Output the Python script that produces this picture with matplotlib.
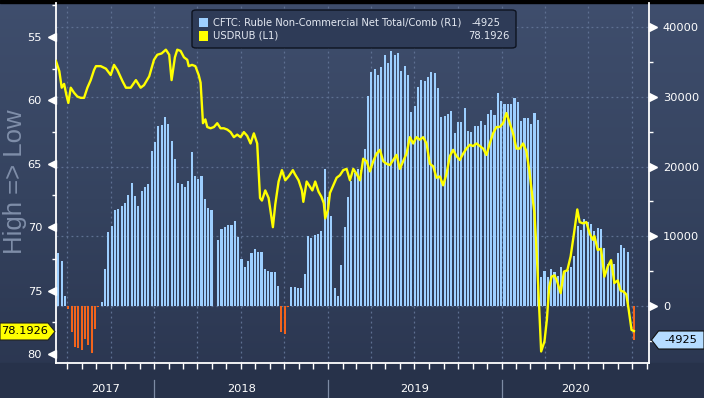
import numpy as np
import pandas as pd
import matplotlib
matplotlib.use('Agg')
import matplotlib.pyplot as plt
import matplotlib.dates as mdates
import matplotlib.transforms as mtransforms
from matplotlib.colors import LinearSegmentedColormap
from matplotlib.patches import Polygon, FancyBboxPatch, Rectangle

# ---------------- data ----------------
cftc_start = '2017-06-13'   # weekly CFTC report dates
cftc_net = [
    7560, 6460, 1435, -480, -3680, -5840, -6080, -6270, -4780, -5650,
    -6700, -3350, -100, 570, 5360, 10620, 11430, 13780, 13920, 14350,
    14830, 15930, 17600, 15790, 14350, 16460, 17080, 17420, 22200, 23540,
    25840, 25980, 27130, 26120, 23680, 21050, 17700, 17560, 17080, 17940,
    22100, 18660, 18280, 18660, 15360, 14070, 13730, np.nan, 9470, 11100,
    11390, 11630, 11580, 12200, 9900, 6700, 5650, 6460, 7610, 8180,
    7750, 7750, 5310, 5070, 4930, 4880, 2870, -3730, -4070, -200,
    2730, 2730, 2630, 2630, 4550, 10050, 9810, 10140, 10290, 10770,
    19620, 15650, 12920, 2630, 1435, 5840, 11340, 15650, 17940, 19140,
    19620, 19520, 22490, 30140, 33490, 33970, 33160, 34310, 36030, 34790,
    36600, 36030, 36220, 33640, 34450, 33160, 27750, 28710, 31440, 32390,
    32200, 32870, 33490, 33350, 31240, 27130, 27270, 27510, 27990, 24740,
    26320, 26380, 28450, 25020, 24930, 25800, 25750, 26520, 25890, 27490,
    28070, 27340, 30480, 29420, 29030, 28890, 28940, 29760, 29230, 26520,
    27000, 27000, 26040, 27730, 26620, 4160, 5020, 4160, 5260, 4930,
    4260, 5600, 4930, 5120, 5600, 7180, 11480, 10860, 12440, 12110,
    11720, 10770, 11150, 11000, 8280, 5980, 6460, 5980, 7660, 8760,
    8280, 7800, np.nan, -4925,
]

usdrub_dates = [
    '2017-06-08', '2017-06-15', '2017-06-20', '2017-06-25', '2017-06-30', '2017-07-04',
    '2017-07-09', '2017-07-16', '2017-07-23', '2017-07-30', '2017-08-06', '2017-08-13',
    '2017-08-20', '2017-08-27', '2017-08-31', '2017-09-10', '2017-09-21', '2017-10-01',
    '2017-10-08', '2017-10-15', '2017-10-26', '2017-11-02', '2017-11-12', '2017-11-23',
    '2017-12-03', '2017-12-10', '2017-12-21', '2017-12-31', '2018-01-07', '2018-01-16',
    '2018-01-25', '2018-02-01', '2018-02-06', '2018-02-13', '2018-02-18', '2018-02-25',
    '2018-03-04', '2018-03-11', '2018-03-14', '2018-03-21', '2018-03-28', '2018-04-04',
    '2018-04-08', '2018-04-13', '2018-04-18', '2018-04-22', '2018-04-29', '2018-05-06',
    '2018-05-13', '2018-05-20', '2018-05-27', '2018-06-03', '2018-06-10', '2018-06-17',
    '2018-06-24', '2018-07-01', '2018-07-08', '2018-07-15', '2018-07-22', '2018-07-29',
    '2018-08-05', '2018-08-11', '2018-08-15', '2018-08-22', '2018-08-29', '2018-09-07',
    '2018-09-12', '2018-09-19', '2018-09-26', '2018-10-03', '2018-10-10', '2018-10-19',
    '2018-10-23', '2018-10-31', '2018-11-07', '2018-11-10', '2018-11-17', '2018-11-24',
    '2018-11-29', '2018-12-05', '2018-12-12', '2018-12-18', '2018-12-23', '2018-12-26',
    '2019-01-01', '2019-01-05', '2019-01-12', '2019-01-19', '2019-01-26', '2019-02-02',
    '2019-02-09', '2019-02-16', '2019-02-23', '2019-03-02', '2019-03-09', '2019-03-16',
    '2019-03-23', '2019-03-30', '2019-04-06', '2019-04-13', '2019-04-20', '2019-04-27',
    '2019-05-04', '2019-05-11', '2019-05-18', '2019-05-25', '2019-06-01', '2019-06-09',
    '2019-06-15', '2019-06-22', '2019-06-29', '2019-07-06', '2019-07-13', '2019-07-20',
    '2019-07-27', '2019-08-03', '2019-08-10', '2019-08-17', '2019-08-24', '2019-08-31',
    '2019-09-07', '2019-09-14', '2019-09-21', '2019-09-28', '2019-10-05', '2019-10-12',
    '2019-10-19', '2019-10-26', '2019-11-02', '2019-11-09', '2019-11-16', '2019-11-23',
    '2019-11-30', '2019-12-07', '2019-12-14', '2019-12-21', '2019-12-28', '2020-01-04',
    '2020-01-11', '2020-01-18', '2020-01-25', '2020-02-01', '2020-02-08', '2020-02-15',
    '2020-02-22', '2020-02-28', '2020-03-04', '2020-03-10', '2020-03-15', '2020-03-20',
    '2020-03-24', '2020-03-31', '2020-04-05', '2020-04-10', '2020-04-15', '2020-04-21',
    '2020-04-26', '2020-05-04', '2020-05-11', '2020-05-18', '2020-05-25', '2020-06-01',
    '2020-06-08', '2020-06-13', '2020-06-20', '2020-06-27', '2020-07-04', '2020-07-11',
    '2020-07-14', '2020-07-21', '2020-07-28', '2020-08-04', '2020-08-11', '2020-08-18',
    '2020-08-25', '2020-09-01', '2020-09-07', '2020-09-14', '2020-09-19', '2020-09-24',
    '2020-09-30', '2020-10-05',
]
usdrub_vals = [
    56.9, 57.7, 59.0, 58.7, 59.6, 60.2,
    59.0, 59.4, 59.7, 59.8, 59.8, 59.0,
    58.4, 57.6, 57.3, 57.3, 57.5, 58.0,
    57.2, 57.6, 58.5, 59.0, 59.0, 58.4,
    59.0, 58.8, 58.1, 56.8, 56.4, 56.3,
    56.0, 56.4, 58.4, 56.6, 56.0, 56.1,
    56.6, 56.8, 57.3, 57.2, 57.3, 58.0,
    58.6, 61.8, 61.5, 62.1, 62.2, 62.1,
    61.8, 62.2, 62.2, 62.3, 62.5, 62.9,
    62.7, 62.9, 62.5, 62.8, 63.4, 62.6,
    63.4, 67.7, 67.9, 67.1, 67.7, 70.0,
    68.2, 66.4, 65.5, 66.3, 66.0, 65.5,
    65.8, 66.3, 67.1, 68.0, 66.4, 66.8,
    67.1, 66.4, 67.2, 67.6, 68.1, 69.3,
    68.6, 67.3, 66.7, 66.1, 65.9, 65.5,
    65.4, 66.3, 65.4, 65.8, 66.3, 64.6,
    64.8, 65.6, 64.8, 64.2, 63.9, 64.8,
    65.0, 65.1, 64.7, 64.3, 65.4, 64.7,
    64.2, 62.9, 63.4, 62.9, 63.1, 62.9,
    63.4, 65.0, 65.2, 66.1, 66.0, 66.7,
    65.8, 64.4, 63.9, 64.4, 64.7, 64.2,
    63.8, 63.5, 63.6, 63.4, 63.6, 63.8,
    64.3, 63.4, 62.6, 62.1, 62.1, 61.8,
    61.0, 61.8, 62.6, 63.8, 63.8, 63.4,
    64.0, 65.5, 67.1, 68.9, 72.3, 76.5,
    79.8, 79.0, 77.3, 74.7, 73.9, 73.8,
    74.2, 75.2, 73.5, 73.4, 72.3, 70.5,
    68.6, 69.6, 69.7, 69.6, 70.5, 71.0,
    70.7, 71.8, 71.7, 73.9, 73.1, 72.6,
    74.4, 74.2, 75.0, 75.1, 75.3, 76.5,
    78.1, 78.1926,
]

legend_labels = ['CFTC: Ruble Non-Commercial Net Total/Comb (R1)', 'USDRUB (L1)']
last_values = ['-4925', '78.1926']
left_ticks = [55, 60, 65, 70, 75, 80]
right_ticks = [0, 10000, 20000, 30000, 40000]
years = [2017, 2018, 2019, 2020]
ylabel = 'High => Low'

# ---------------- style ----------------
W, H = 704, 398
BLUE = '#9dcfff'
ORANGE = '#f2641c'
YELLOW = '#ffff00'
GRID = '#5e7092'
TXT = '#ffffff'

fig = plt.figure(figsize=(W / 100, H / 100), dpi=100)

# background gradient over whole figure
bg = fig.add_axes([0, 0, 1, 1], zorder=-10)
grad = np.linspace(0, 1, 256).reshape(-1, 1)
cmap = LinearSegmentedColormap.from_list('bg', ['#3f4e6d', '#35435f', '#2a354f'])
bg.imshow(grad, aspect='auto', cmap=cmap, extent=[0, 1, 0, 1], origin='upper')
bg.set_xlim(0, 1); bg.set_ylim(0, 1)
bg.axis('off')
bg.add_patch(Rectangle((0, 1 - 3 / H), 1, 3 / H, color='black', transform=bg.transAxes))
bg.add_patch(Rectangle((0, 0), 1, 35 / H, color='#27324a', transform=bg.transAxes))


def px(x, y):
    return (x / W, 1 - y / H)


ax = fig.add_axes([56 / W, 35 / H, 593 / W, 360 / H])
ax.set_facecolor('none')
ax2 = ax.twinx()
ax2.set_facecolor('none')

# bars (right axis)
bar_dates = pd.date_range(cftc_start, periods=len(cftc_net), freq='7D')
vals = np.array(cftc_net, dtype=float)
ok = ~np.isnan(vals)
cols = np.where(vals[ok] >= 0, BLUE, ORANGE)
ax.bar(bar_dates[ok], vals[ok], width=4.4, color=cols, zorder=2, linewidth=0)

ax.set_ylim(-8170, 43440)
ax.yaxis.tick_right()
ax.set_yticks(right_ticks)
ax.set_yticks(np.arange(-5000, 43000, 5000), minor=True)
ax.set_yticklabels([str(v) for v in right_ticks])
ax.tick_params(axis='y', which='major', length=0, pad=10, labelsize=8.2, labelcolor=TXT,
               labelright=True, labelleft=False, right=True, left=False)
ax.tick_params(axis='y', which='minor', length=3, width=1, color='white', direction='out',
               right=True, left=False, labelright=False, labelleft=False)

x0 = pd.Timestamp('2017-06-08')
x1 = pd.Timestamp('2020-11-05 18:00')
ax.set_xlim(x0, x1)
ax.xaxis.set_major_locator(mdates.MonthLocator(bymonth=[1, 4, 7, 10]))
ax.xaxis.set_minor_locator(mdates.MonthLocator())
ax.tick_params(axis='x', which='both', length=4, width=1, color='white',
               labelbottom=False, direction='out')

ax.set_axisbelow(True)
ax.grid(True, axis='y', which='major', color=GRID, linestyle=(0, (1.5, 2.5)), linewidth=0.9)
ax.grid(True, axis='x', which='major', color=GRID, linestyle=(0, (1.5, 2.5)), linewidth=0.9)

for s in ['left', 'right', 'bottom']:
    ax.spines[s].set_color('white')
    ax.spines[s].set_linewidth(1.3)
ax.spines['top'].set_visible(False)

# right triangles
trR = mtransforms.blended_transform_factory(ax.transAxes, ax.transData)
ax.plot([1.0075] * len(right_ticks), right_ticks, ls='none', marker='>', ms=5.5,
        color='white', transform=trR, clip_on=False, zorder=5)

# line (left axis)
ax2.plot(pd.to_datetime(usdrub_dates), usdrub_vals, color=YELLOW, lw=1.7, zorder=3,
         solid_joinstyle='round')
ax2.set_ylim(80.71, 52.32)
ax2.yaxis.tick_left()
ax2.set_yticks(left_ticks)
ax2.set_yticks(np.arange(52.5, 81, 2.5), minor=True)
ax2.set_yticklabels([str(v) for v in left_ticks])
ax2.tick_params(axis='y', which='major', length=0, pad=10, labelsize=8.2, labelcolor=TXT,
                labelleft=True, labelright=False, left=True, right=False)
ax2.tick_params(axis='y', which='minor', length=3, width=1, color='white', direction='out',
                labelleft=False, labelright=False, left=True, right=False)
for s in ax2.spines.values():
    s.set_visible(False)
ax2.set_xlim(x0, x1)

trL = mtransforms.blended_transform_factory(ax2.transAxes, ax2.transData)
ax2.plot([-0.0075] * len(left_ticks), left_ticks, ls='none', marker='<', ms=5.5,
         color='white', transform=trL, clip_on=False, zorder=5)

# year labels and separators
trX = mtransforms.blended_transform_factory(ax.transData, ax.transAxes)
for y in years:
    a = max(pd.Timestamp(f'{y}-01-01'), x0)
    b = min(pd.Timestamp(f'{y + 1}-01-01'), x1)
    mid = a + (b - a) / 2
    ax.text(mdates.date2num(mid), -0.072, str(y), transform=trX, ha='center', va='center',
            color=TXT, fontsize=8.2)
    if y > years[0]:
        ax.plot([mdates.date2num(pd.Timestamp(f'{y}-01-01'))] * 2, [-0.047, -0.095],
                color='#7d8ba4', lw=0.9, transform=trX, clip_on=False)

# y label
fig.text(15 / W, 1 - 182 / H, ylabel, rotation=90, ha='center', va='center',
         color='#7f8ea9', fontsize=18.5, family='Liberation Sans')

# legend box
lg = FancyBboxPatch(px(192, 48), 324 / W, 38 / H, boxstyle='round,pad=0,rounding_size=0.006',
                    transform=fig.transFigure, facecolor='#2e3b57', edgecolor='#0d1320',
                    linewidth=1.0, zorder=20)
fig.patches.append(lg)
for i, (lab, col) in enumerate(zip(legend_labels, [BLUE, YELLOW])):
    yc = 22.5 + i * 13.5
    fig.patches.append(Rectangle(px(199, yc + 4.5), 9 / W, 9 / H, transform=fig.transFigure,
                                 facecolor=col, edgecolor='none', zorder=21))
    fig.text(*px(213, yc), lab, ha='left', va='center', color='#e4e9f2', fontsize=7.2,
             zorder=22)
fig.text(*px(472, 22.5), last_values[0], ha='left', va='center', color='#e4e9f2',
         fontsize=7.2, zorder=22)
fig.text(*px(510, 36), last_values[1], ha='right', va='center', color='#e4e9f2',
         fontsize=7.2, zorder=22)

# price tags
ytag = 331.5
tagL = Polygon([px(0, ytag - 8.5), px(48, ytag - 8.5), px(55, ytag), px(48, ytag + 8.5),
                px(0, ytag + 8.5)], closed=True, transform=fig.transFigure,
               facecolor='#ffff00', edgecolor='#222222', linewidth=0.8, zorder=20)
fig.patches.append(tagL)
fig.text(*px(25, ytag), last_values[1], ha='center', va='center', color='black',
         fontsize=8.2, zorder=22)

ytag2 = 340
tagR = Polygon([px(651.5, ytag2), px(658.5, ytag2 - 9), px(704, ytag2 - 9), px(704, ytag2 + 9),
                px(658.5, ytag2 + 9)], closed=True, transform=fig.transFigure,
               facecolor='#b5dcff', edgecolor='#111111', linewidth=0.8, zorder=20)
fig.patches.append(tagR)
fig.text(*px(681, ytag2), last_values[0], ha='center', va='center', color='black',
         fontsize=8.2, zorder=22)

fig.savefig('out.png', dpi=100, facecolor=fig.get_facecolor())
